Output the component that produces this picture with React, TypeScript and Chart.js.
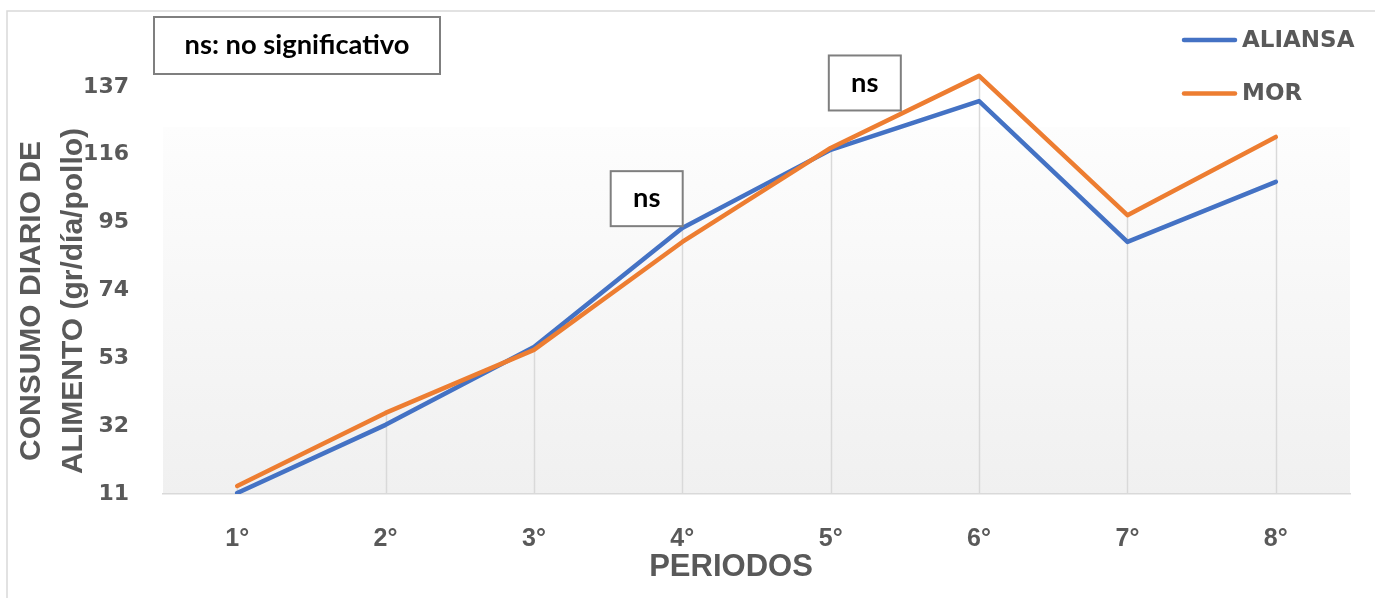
import React, { useEffect, useRef } from "react";
import { Chart, registerables } from "chart.js";

Chart.register(...registerables);

// ---- data ----
const categories = ["1°", "2°", "3°", "4°", "5°", "6°", "7°", "8°"];
const aliansa = [11.3, 32.4, 56.5, 93.3, 117.5, 132.6, 89.0, 107.6];
const mor = [13.5, 36.1, 55.6, 89.0, 118.1, 140.4, 97.3, 121.5];
const seriesNames = ["ALIANSA", "MOR"];
const seriesColors = ["#4472C4", "#ED7D31"];
const yTickValues = [11, 32, 53, 74, 95, 116, 137];
const yMin = 11;
const yMax = 158;
const yStep = 21;
const yTitleLines = ["CONSUMO DIARIO DE", "ALIMENTO (gr/día/pollo)"];
const xTitle = "PERIODOS";
const noteText = "ns: no significativo";
const nsLabels = ["ns", "ns"];
const nsCategoryPos = [2.76, 4.23];
const nsValues = [102.4, 138.2];

const GRAY = "#595959";
const NOTE_FONT_FAMILY = "Lato, 'Open Sans', sans-serif";

const decorPlugin = {
  id: "decor",
  beforeDraw(chart: any) {
    const { ctx, chartArea: a, width, height } = chart;
    ctx.save();
    ctx.fillStyle = "#ffffff";
    ctx.fillRect(0, 0, width, height);
    // outer frame
    ctx.strokeStyle = "#d9d9d9";
    ctx.lineWidth = 1.5;
    ctx.beginPath();
    ctx.moveTo(7, height + 2);
    ctx.lineTo(7, 11);
    ctx.lineTo(width + 2, 11);
    ctx.stroke();
    // plot area gradient fill
    const gTop = a.top + 108;
    const g = ctx.createLinearGradient(0, gTop, 0, a.bottom);
    g.addColorStop(0, "#fdfdfd");
    g.addColorStop(1, "#f0f0f0");
    ctx.fillStyle = g;
    ctx.fillRect(a.left, gTop, a.right - a.left, a.bottom - gTop);
    ctx.restore();
  },
  beforeDatasetsDraw(chart: any) {
    const { ctx } = chart;
    const xs = chart.scales.x;
    const ys = chart.scales.y;
    ctx.save();
    ctx.strokeStyle = "#d9d9d9";
    ctx.lineWidth = 1.5;
    categories.forEach((_, i) => {
      const top = Math.max(aliansa[i], mor[i]);
      const px = Math.round(xs.getPixelForValue(i)) + 0.5;
      ctx.beginPath();
      ctx.moveTo(px, ys.getPixelForValue(top));
      ctx.lineTo(px, ys.getPixelForValue(yMin));
      ctx.stroke();
    });
    ctx.restore();
  },
  afterDraw(chart: any) {
    const { ctx, chartArea: a } = chart;
    const xs = chart.scales.x;
    const ys = chart.scales.y;
    ctx.save();

    // legend
    ctx.font = "bold 23px 'DejaVu Sans'";
    ctx.textBaseline = "middle";
    ctx.textAlign = "left";
    seriesNames.forEach((name, i) => {
      const y = 40 + i * 53.5;
      ctx.strokeStyle = seriesColors[i];
      ctx.lineWidth = 4.5;
      ctx.lineCap = "round";
      ctx.beginPath();
      ctx.moveTo(1184, y);
      ctx.lineTo(1235, y);
      ctx.stroke();
      ctx.fillStyle = GRAY;
      ctx.fillText(name, 1242, y + 1);
    });

    // note box
    ctx.lineCap = "butt";
    const nx = a.left - 9;
    const ny = 17;
    const nw = 286;
    const nh = 57;
    ctx.fillStyle = "#ffffff";
    ctx.fillRect(nx, ny, nw, nh);
    ctx.strokeStyle = "#7f7f7f";
    ctx.lineWidth = 2;
    ctx.strokeRect(nx, ny, nw, nh);
    let fs = 24;
    ctx.font = `bold ${fs}px ${NOTE_FONT_FAMILY}`;
    const w = ctx.measureText(noteText).width;
    fs = Math.max(16, Math.min(30, (fs * 225) / w));
    ctx.font = `bold ${fs}px ${NOTE_FONT_FAMILY}`;
    ctx.fillStyle = "#000000";
    ctx.textAlign = "center";
    ctx.textBaseline = "middle";
    ctx.fillText(noteText, nx + nw / 2, ny + nh / 2);

    // ns boxes
    nsLabels.forEach((lab, i) => {
      const cx = xs.getPixelForValue(nsCategoryPos[i]);
      const cy = ys.getPixelForValue(nsValues[i]);
      const bw = 72;
      const bh = 55;
      ctx.fillStyle = "#ffffff";
      ctx.fillRect(cx - bw / 2, cy - bh / 2, bw, bh);
      ctx.strokeStyle = "#7f7f7f";
      ctx.lineWidth = 2;
      ctx.strokeRect(cx - bw / 2, cy - bh / 2, bw, bh);
      ctx.fillStyle = "#000000";
      ctx.fillText(lab, cx, cy);
    });

    // axis titles
    ctx.fillStyle = GRAY;
    ctx.font = "bold 31px 'Liberation Sans', Arial, sans-serif";
    ctx.textAlign = "center";
    ctx.textBaseline = "middle";
    ctx.fillText(xTitle, 731, 567);

    ctx.font = "bold 30px 'Liberation Sans', Arial, sans-serif";
    const lineXs = [32, 74];
    yTitleLines.forEach((t, i) => {
      ctx.save();
      ctx.translate(lineXs[i], 301);
      ctx.rotate(-Math.PI / 2);
      ctx.fillText(t, 0, 0);
      ctx.restore();
    });

    ctx.restore();
  },
};

export default function App() {
  const ref = useRef<HTMLCanvasElement | null>(null);
  useEffect(() => {
    if (!ref.current) return;
    const chart = new Chart(ref.current, {
      type: "line",
      data: {
        labels: categories,
        datasets: [
          {
            label: seriesNames[0],
            data: aliansa,
            borderColor: seriesColors[0],
            backgroundColor: seriesColors[0],
            borderWidth: 4.5,
            pointRadius: 0,
            pointHoverRadius: 0,
            tension: 0,
            borderCapStyle: "round",
            borderJoinStyle: "round",
            order: 1,
          },
          {
            label: seriesNames[1],
            data: mor,
            borderColor: seriesColors[1],
            backgroundColor: seriesColors[1],
            borderWidth: 4.5,
            pointRadius: 0,
            pointHoverRadius: 0,
            tension: 0,
            borderCapStyle: "round",
            borderJoinStyle: "round",
            order: 0,
          },
        ],
      },
      options: {
        responsive: false,
        animation: false,
        devicePixelRatio: 1,
        layout: { padding: { top: 19, right: 25, left: 0, bottom: 0 } },
        plugins: {
          legend: { display: false },
          title: { display: false },
          tooltip: { enabled: false },
        },
        scales: {
          x: {
            type: "category",
            offset: true,
            grid: { display: false, offset: false },
            border: { display: true, color: "#d9d9d9", width: 1.5 },
            ticks: {
              color: GRAY,
              padding: 22,
              font: { family: "'Liberation Sans', Arial, sans-serif", weight: "bold", size: 25 },
              maxRotation: 0,
            },
            afterFit(scale: any) {
              scale.height = 104;
              scale.paddingLeft = 0;
              scale.paddingRight = 0;
            },
          },
          y: {
            type: "linear",
            min: yMin,
            max: yMax,
            grid: { display: false },
            border: { display: false },
            ticks: {
              stepSize: yStep,
              color: GRAY,
              padding: 26,
              font: { family: "'DejaVu Sans'", weight: "bold", size: 22 },
              callback: (v: any) => (yTickValues.includes(Number(v)) ? String(v) : ""),
            },
            afterFit(scale: any) {
              scale.width = 163;
              scale.paddingTop = 0;
              scale.paddingBottom = 0;
            },
          },
        },
      },
      plugins: [decorPlugin],
    } as any);
    return () => chart.destroy();
  }, []);
  return (
    <div style={{ position: "fixed", left: 0, top: 0, width: 1375, height: 598, background: "#fff" }}>
      <canvas ref={ref} width={1375} height={598} style={{ display: "block", width: 1375, height: 598 }} />
    </div>
  );
}
